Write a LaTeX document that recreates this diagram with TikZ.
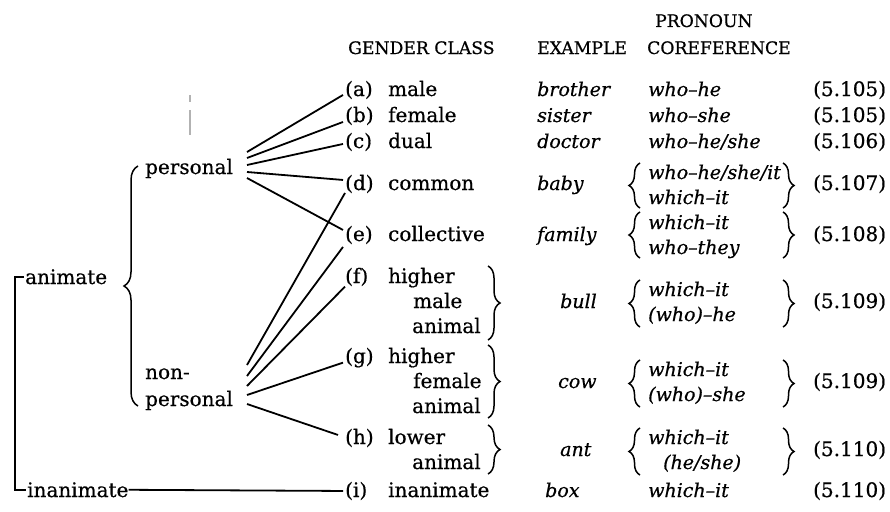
\documentclass[tikz,border=0pt]{standalone}
\usepackage{fontspec}
\setmainfont{DejaVu Serif}[FakeBold=0.6]
\usetikzlibrary{decorations.pathreplacing,calc}
\begin{document}
\begin{tikzpicture}[x=1pt,y=-1pt,
  txt/.style={inner sep=0pt, anchor=base west, font=\fontsize{20}{24}\selectfont},
  itx/.style={inner sep=0pt, anchor=base west, font=\fontsize{19}{23}\selectfont\itshape},
  hdr/.style={inner sep=0pt, anchor=base west, font=\fontsize{17.2}{20}\selectfont},
  conn/.style={line width=1.8pt},
  brc/.style={line width=1.5pt, decorate, decoration={brace, amplitude=#1}},
]
\useasboundingbox (0,0) rectangle (890,511);

% headers
\node[hdr] (h1) at (655,27) {PRONOUN};
\node[hdr] (h2) at (348,54) {GENDER CLASS};
\node[hdr] (h3) at (537,54) {EXAMPLE};
\node[hdr] (h4) at (647,54) {COREFERENCE};

% stray scan mark
\draw[gray!60, line width=1.4pt] (190,95) -- (190,102) (190,110) -- (190,135);

% left tree
\node[txt] (anim) at (25,284) {animate};
\node[txt] (inan) at (27,497) {inanimate};
\node[txt] (pers) at (145,174) {personal};
\node[txt] (non) at (145,379) {non-};
\node[txt] (npers) at (145,406) {personal};

\draw[conn] ($(anim.west)+(-1,0)$) -- ++(-9,0) |- ($(inan.west)+(-1,0)$);
\draw[brc=14pt] (138,406) -- (138,166);

% gender classes
\node[txt] (ga) at (345,96) {\makebox[43pt][l]{(a)}male};
\node[txt] (gb) at (345,122) {\makebox[43pt][l]{(b)}female};
\node[txt] (gc) at (345,148) {\makebox[43pt][l]{(c)}dual};
\node[txt] (gd) at (345,190) {\makebox[43pt][l]{(d)}common};
\node[txt] (ge) at (345,241) {\makebox[43pt][l]{(e)}collective};
\node[txt] (gf) at (345,283) {\makebox[43pt][l]{(f)}higher};
\node[txt] (gf2) at (413,308) {male};
\node[txt] (gf3) at (412,333) {animal};
\node[txt] (gg) at (345,363) {\makebox[43pt][l]{(g)}higher};
\node[txt] (gg2) at (413,388) {female};
\node[txt] (gg3) at (412,413) {animal};
\node[txt] (gh) at (345,444) {\makebox[43pt][l]{(h)}lower};
\node[txt] (gh2) at (412,469) {animal};
\node[txt] (gi) at (345,497) {\makebox[43pt][l]{(i)}inanimate};

\draw[brc=12pt] (488,266) -- (488,340);
\draw[brc=12pt] (488,345) -- (488,418);
\draw[brc=12pt] (488,425) -- (488,474);

% connectors from personal
\coordinate (p1) at (247,152);
\coordinate (p2) at (247,158);
\coordinate (p3) at (247,165);
\coordinate (p4) at (247,172);
\coordinate (p5) at (247,178);
\draw[conn] (p1) -- ($(ga.west)+(-2,5)$);
\draw[conn] (p2) -- ($(gb.west)+(-2,6)$);
\draw[conn] (p3) -- ($(gc.west)+(-2,2)$);
\draw[conn] (p4) -- ($(gd.west)+(-2,-4)$);
\draw[conn] (p5) -- ($(ge.west)+(-2,-5)$);

% connectors from non-personal
\coordinate (n1) at (247,365);
\coordinate (n2) at (247,376);
\coordinate (n3) at (247,386);
\coordinate (n4) at (247,395);
\coordinate (n5) at (247,404);
\draw[conn] (n1) -- ($(gd.west)+(0,9)$);
\draw[conn] (n2) -- ($(ge.west)+(-2,12)$);
\draw[conn] (n3) -- ($(gf.west)+(0,9)$);
\draw[conn] (n4) -- ($(gg.west)+(-2,5)$);
\draw[conn] (n5) -- ($(gh.west)+(-7,-3)$);

% inanimate connector
\draw[conn] (inan.east) -- ($(gi.west)+(-2,0)$);

% examples
\node[itx] (ea) at (537,96) {brother};
\node[itx] (eb) at (537,122) {sister};
\node[itx] (ec) at (537,148) {doctor};
\node[itx] (ed) at (537,190) {baby};
\node[itx] (ee) at (537,241) {family};
\node[itx] (ef) at (560,308) {bull};
\node[itx] (eg) at (558,388) {cow};
\node[itx] (eh) at (560,456) {ant};
\node[itx] (ei) at (545,497) {box};

% pronoun coreference
\node[itx] (ra) at (648,96) {who--he};
\node[itx] (rb) at (648,122) {who--she};
\node[itx] (rc) at (648,148) {who--he/she};
\node[itx] (rd1) at (648,179) {who--he/she/it};
\node[itx] (rd2) at (648,204) {which--it};
\node[itx] (re1) at (648,229) {which--it};
\node[itx] (re2) at (648,254) {who--they};
\node[itx] (rf1) at (648,296) {which--it};
\node[itx] (rf2) at (648,321) {(who)--he};
\node[itx] (rg1) at (648,376) {which--it};
\node[itx] (rg2) at (648,401) {(who)--she};
\node[itx] (rh1) at (648,444) {which--it};
\node[itx] (rh2) at (663,469) {(he/she)};
\node[itx] (ri) at (648,497) {which--it};

\foreach \t/\b in {163/208, 212/258, 280/327, 360/407, 428/475}{
  \draw[brc=11pt] (640,\b) -- (640,\t);
  \draw[brc=11pt] (783,\t) -- (783,\b);
}

% equation numbers
\node[txt] (qa) at (813,96) {(5.105)};
\node[txt] (qb) at (813,122) {(5.105)};
\node[txt] (qc) at (813,148) {(5.106)};
\node[txt] (qd) at (813,190) {(5.107)};
\node[txt] (qe) at (813,241) {(5.108)};
\node[txt] (qf) at (813,308) {(5.109)};
\node[txt] (qg) at (813,388) {(5.109)};
\node[txt] (qh) at (813,456) {(5.110)};
\node[txt] (qi) at (813,497) {(5.110)};
\end{tikzpicture}
\end{document}
